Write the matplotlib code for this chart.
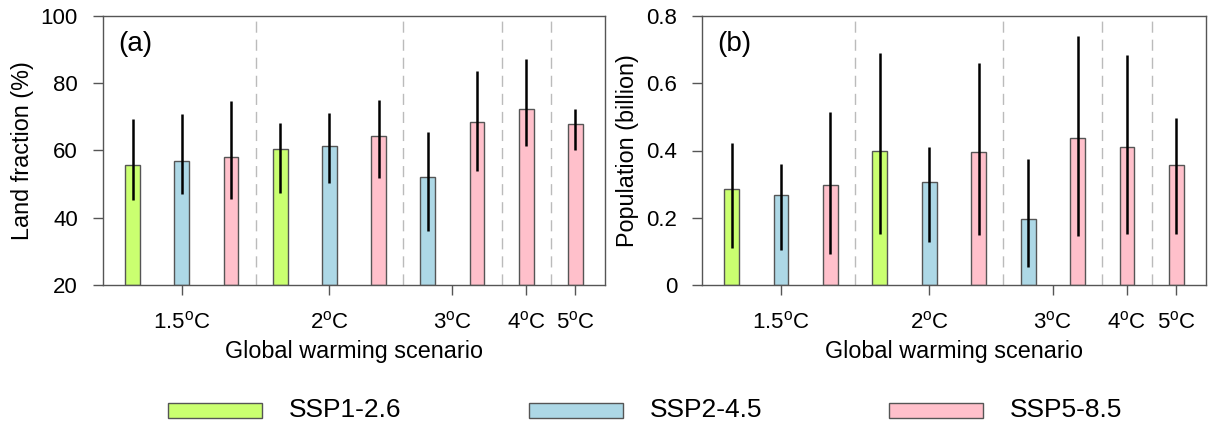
import matplotlib
matplotlib.use("Agg")
import matplotlib.pyplot as plt
from matplotlib.patches import Rectangle
import numpy as np

plt.rcParams['font.family'] = ['Liberation Sans', 'DejaVu Sans']

# ---- data ----
ssp_names = ['SSP1-2.6', 'SSP2-4.5', 'SSP5-8.5']
ssp_colors = {'SSP1-2.6': '#CAFF70', 'SSP2-4.5': '#ADD8E6', 'SSP5-8.5': '#FFC0CB'}
levels = ['1.5', '2', '3', '4', '5']
bar_level = ['1.5', '1.5', '1.5', '2', '2', '2', '3', '3', '4', '5']
bar_ssp = ['SSP1-2.6', 'SSP2-4.5', 'SSP5-8.5', 'SSP1-2.6', 'SSP2-4.5', 'SSP5-8.5',
           'SSP2-4.5', 'SSP5-8.5', 'SSP5-8.5', 'SSP5-8.5']

land_mean = [55.7, 57.0, 58.2, 60.3, 61.2, 64.4, 52.2, 68.4, 72.4, 67.9]
land_low = [45.4, 47.0, 45.5, 47.4, 50.4, 51.7, 36.1, 53.8, 61.4, 60.1]
land_high = [69.4, 70.8, 74.6, 68.2, 71.3, 74.9, 65.4, 83.7, 87.1, 72.3]

pop_mean = [0.286, 0.267, 0.297, 0.399, 0.307, 0.397, 0.195, 0.437, 0.410, 0.356]
pop_low = [0.110, 0.104, 0.092, 0.152, 0.128, 0.148, 0.054, 0.145, 0.152, 0.152]
pop_high = [0.423, 0.360, 0.514, 0.691, 0.411, 0.661, 0.376, 0.740, 0.684, 0.496]

land_yticks = [20, 40, 60, 80, 100]
pop_yticks = [0, 0.2, 0.4, 0.6, 0.8]
pop_yticklabels = ['0', '0.2', '0.4', '0.6', '0.8']

W, H = 1209, 428
fig = plt.figure(figsize=(W / 100, H / 100), dpi=100)

FS = 16
FSL = 16.8
edge = '#555555'


def panel(rect, mean, low, high, ylim, yticks, yticklabels, ylabel, tag):
    ax = fig.add_axes(rect)
    x = np.arange(len(mean))
    cols = [ssp_colors[s] for s in bar_ssp]
    ax.bar(x, np.array(mean) - ylim[0], bottom=ylim[0], width=0.3,
           color=cols, edgecolor=edge, linewidth=1.0, zorder=2)
    ax.vlines(x, low, high, color='black', linewidth=1.8, zorder=3)
    # group boundaries and tick positions
    ticks = []
    for i, lv in enumerate(levels):
        idx = [j for j, b in enumerate(bar_level) if b == lv]
        ticks.append(np.mean(idx))
        if i < len(levels) - 1:
            ax.axvline(max(idx) + 0.5, color='#BBBBBB', linewidth=1.0,
                       dashes=(8, 5), zorder=1)
    ax.set_xlim(-0.6, len(mean) - 0.4)
    ax.set_ylim(*ylim)
    ax.set_xticks(ticks)
    ax.set_xticklabels([lv + r'$^{\mathregular{o}}$C' for lv in levels], fontsize=FS)
    ax.set_yticks(yticks)
    ax.set_yticklabels(yticklabels, fontsize=FS)
    ax.tick_params(axis='x', length=7, width=1, color=edge, pad=12)
    ax.tick_params(axis='y', length=7, width=1, color=edge, pad=11)
    for s in ax.spines.values():
        s.set_color(edge)
        s.set_linewidth(1.0)
    ax.set_xlabel('Global warming scenario', fontsize=FSL, labelpad=5)
    ax.set_ylabel(ylabel, fontsize=FSL, labelpad=5)
    ax.text(0.03, 0.895, tag, transform=ax.transAxes, fontsize=20,
            ha='left', va='center')
    return ax


b = 1 - 285 / H
t = 1 - 16 / H
panel([103 / W, b, (605 - 103) / W, t - b], land_mean, land_low, land_high,
      (20, 100), land_yticks, [str(v) for v in land_yticks],
      'Land fraction (%)', '(a)')
panel([702 / W, b, (1206 - 702) / W, t - b], pop_mean, pop_low, pop_high,
      (0, 0.8), pop_yticks, pop_yticklabels,
      'Population (billion)', '(b)')

# legend
leg_x = [168, 529, 889]
for px, name in zip(leg_x, ssp_names):
    fig.add_artist(Rectangle((px / W, 1 - 418 / H), 94 / W, 15 / H,
                             transform=fig.transFigure, facecolor=ssp_colors[name],
                             edgecolor=edge, linewidth=1.0))
    fig.text((px + 121) / W, 1 - 410 / H, name, fontsize=19, ha='left', va='center')

fig.savefig('out.png', dpi=100)
